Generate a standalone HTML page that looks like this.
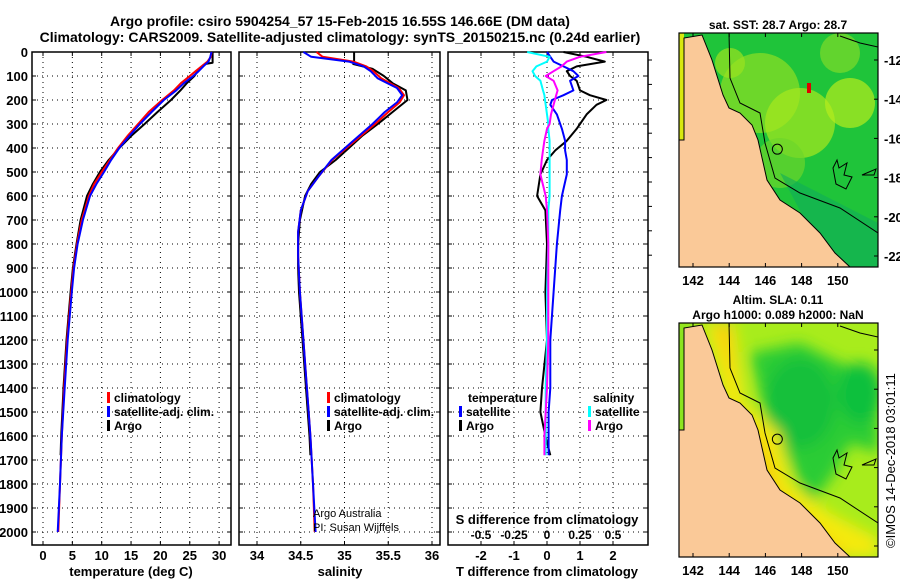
<!DOCTYPE html>
<html><head><meta charset="utf-8"><style>
html,body{margin:0;padding:0;background:#fff;}
svg{display:block;font-family:"Liberation Sans",sans-serif;font-weight:bold;}
</style></head><body>
<svg id="c" width="900" height="580" viewBox="0 0 900 580">
<text x="340" y="26" font-size="14" text-anchor="middle">Argo profile: csiro 5904254_57 15-Feb-2015 16.55S 146.66E (DM data)</text>
<text x="340" y="42" font-size="14" text-anchor="middle">Climatology: CARS2009. Satellite-adjusted climatology: synTS_20150215.nc (0.24d earlier)</text>
<g id="p1"></g>
<g id="p2"></g>
<g id="p3"></g>
<g id="maps"></g>
<text transform="translate(895,548) rotate(-90)" font-size="13" font-weight="normal">©IMOS 14-Dec-2018 03:01:11</text>
</svg>
<script>
const tDepth=[0,20,40,60,80,100,130,160,200,250,300,350,400,450,500,550,600,700,800,900,1000,1200,1400,1600,1800,2000];
const tClim=[28.7,28.6,28.0,27.0,26.0,25.0,23.5,22.3,20.3,18.0,16.2,14.4,12.8,11.4,10.0,8.7,7.8,6.6,5.8,5.2,4.8,4.1,3.6,3.2,2.9,2.6];
const tSat=[28.7,28.5,28.2,27.3,26.5,25.6,24.0,22.7,20.6,18.5,16.5,14.7,13.0,11.6,10.4,9.1,8.0,6.8,5.9,5.3,4.9,4.2,3.7,3.2,2.9,2.5];
const argoDepth=[0,20,45,50,70,100,130,160,200,250,300,350,400,450,500,550,600,700,800,900,1000,1200,1400,1600,1680];
const tArgo=[28.9,28.9,28.9,27.6,26.6,25.8,24.5,23.4,21.8,19.5,17.3,15.0,13.0,11.2,9.7,8.5,7.5,6.4,5.7,5.1,4.7,4.0,3.5,3.1,3.0];
const sDepth=[0,20,40,60,80,110,150,180,210,250,300,370,450,520,580,660,750,850,1000,1200,1400,1600,1800,2000];
const sClim=[34.68,34.75,35.1,35.25,35.33,35.42,35.62,35.68,35.63,35.5,35.35,35.12,34.86,34.7,34.58,34.5,34.47,34.47,34.49,34.53,34.57,34.61,34.64,34.66];
const sSat=[34.53,34.62,35.05,35.22,35.3,35.38,35.6,35.66,35.6,35.46,35.32,35.1,34.85,34.7,34.58,34.5,34.47,34.47,34.49,34.53,34.57,34.61,34.64,34.67];
const sArgo=[35.11,35.11,35.11,35.1,35.32,35.45,35.55,35.7,35.72,35.55,35.38,35.2,35.05,34.9,34.72,34.62,34.55,34.49,34.47,34.47,34.48,34.52,34.56,34.6,34.61];
const dDepth=[0,20,40,60,80,100,120,160,180,200,220,260,300,320,370,410,450,510,600,660,800,1000,1200,1400,1500,1600,1680];
const dTArgo=[0.5,1.2,1.75,0.9,0.6,0.7,0.9,1.0,1.3,1.8,1.5,1.2,1.0,0.9,0.6,0.25,0.0,-0.2,-0.3,-0.05,0.0,-0.05,0.0,-0.15,-0.2,-0.05,0.1];
const dTSat=[0.0,0.1,0.2,0.5,0.8,0.95,0.7,0.8,0.5,0.15,0.1,0.3,0.4,0.45,0.55,0.55,0.6,0.6,0.45,0.4,0.3,0.2,0.1,0.1,0.05,0.05,0.05];
const dSSat=[-0.15,0.02,0.0,-0.08,-0.11,-0.09,-0.05,-0.03,-0.02,-0.015,-0.01,0.0,0.01,0.01,0.02,0.02,0.02,0.02,0.02,0.01,0.01,0.0,0.0,-0.01,-0.01,-0.01,-0.01];
const dSArgo=[0.45,0.25,0.15,0.11,0.05,-0.01,0.05,0.08,0.07,0.06,0.05,0.03,0.02,0.0,-0.02,-0.03,-0.04,-0.05,-0.01,0.0,0.01,0.01,0.01,0.0,-0.01,-0.02,-0.02];
const depthTicks=[0,100,200,300,400,500,600,700,800,900,1000,1100,1200,1300,1400,1500,1600,1700,1800,1900,2000];
const tTicks=[0,5,10,15,20,25,30];
const sTicks=[34,34.5,35,35.5,36];
const sTickLabels=["34","34.5","35","35.5","36"];
const dTTicks=[-2,-1,0,1,2];
const dSTicks=[-0.5,-0.25,0,0.25,0.5];
const dSTickLabels=["-0.5","-0.25","0","0.25","0.5"];

const NS="http://www.w3.org/2000/svg";
function el(p,tag,a,txt){const e=document.createElementNS(NS,tag);for(const k in a)e.setAttribute(k,a[k]);if(txt!==undefined)e.textContent=txt;p.appendChild(e);return e;}
const TOP=52,BOT=545;
const yD=d=>TOP+d*0.24;
const xT=t=>43+t*5.87;
const xS=s=>257+(s-34)*87.5;
const xDT=v=>547+v*33;
const xDS=v=>547+v*132;

function frame(g,x0,x1,xs,name){
  for(const d of depthTicks){if(d===0)continue;
    const l=el(g,'line',{x1:x0,x2:x1,y1:yD(d),y2:yD(d),stroke:'#000','stroke-width':1,'stroke-dasharray':'1,4'});
    
    el(g,'line',{x1:x0,x2:x0+4,y1:yD(d),y2:yD(d),stroke:'#000'});el(g,'line',{x1:x1-4,x2:x1,y1:yD(d),y2:yD(d),stroke:'#000'});}
  for(const x of xs){
    const l=el(g,'line',{x1:x,x2:x,y1:TOP,y2:BOT,stroke:'#000','stroke-width':1,'stroke-dasharray':'1,4'});
    
    el(g,'line',{x1:x,x2:x,y1:BOT-4,y2:BOT,stroke:'#000'});el(g,'line',{x1:x,x2:x,y1:TOP,y2:TOP+4,stroke:'#000'});}
  const r=el(g,'rect',{x:x0,y:TOP,width:x1-x0,height:BOT-TOP,fill:'none',stroke:'#000','stroke-width':1.5});
  
}
function line(g,xs,ys,fx,color,w,name){
  const pts=xs.map((v,i)=>fx(v).toFixed(1)+','+yD(ys[i]).toFixed(1)).join(' ');
  const p=el(g,'polyline',{points:pts,fill:'none',stroke:color,'stroke-width':w,'stroke-linejoin':'round'});
  
}
function legend(g,x,y,items){items.forEach((it,i)=>{
  el(g,'rect',{x:x,y:y+i*14-10,width:3,height:11,fill:it[1]});
  const t=el(g,'text',{x:x+7,y:y+i*14,'font-size':12},it[0]);
  });}

// Panel 1
const p1=document.getElementById('p1');
frame(p1,32,231,tTicks.map(xT),'temperature');
depthTicks.forEach(d=>{const t=el(p1,'text',{x:28,y:yD(d)+5,'font-size':13,'text-anchor':'end'},String(d));
  });
tTicks.forEach(v=>{const t=el(p1,'text',{x:xT(v),y:560,'font-size':13,'text-anchor':'middle'},String(v));
  });
{const t=el(p1,'text',{x:131,y:576,'font-size':13,'text-anchor':'middle'},'temperature (deg C)');}
line(p1,tArgo,argoDepth,xT,'#000',2,'argo-temperature-line');
line(p1,tClim,tDepth,xT,'#f00',2,'climatology-temperature-line');
line(p1,tSat,tDepth,xT,'#00f',2,'satellite-temperature-line');
legend(p1,107,402,[['climatology','#f00'],['satellite-adj. clim.','#00f'],['Argo','#000']]);

// Panel 2
const p2=document.getElementById('p2');
frame(p2,239,440,sTicks.map(xS),'salinity');
sTicks.forEach((v,i)=>{const t=el(p2,'text',{x:xS(v),y:560,'font-size':13,'text-anchor':'middle'},sTickLabels[i]);
  });
{const t=el(p2,'text',{x:340,y:576,'font-size':13,'text-anchor':'middle'},'salinity');}
line(p2,sArgo,argoDepth,xS,'#000',2,'argo-salinity-line');
line(p2,sClim,sDepth,xS,'#f00',2,'climatology-salinity-line');
line(p2,sSat,sDepth,xS,'#00f',2,'satellite-salinity-line');
legend(p2,327,402,[['climatology','#f00'],['satellite-adj. clim.','#00f'],['Argo','#000']]);
{const t=el(p2,'text',{x:313,y:517,'font-size':11,'font-weight':'normal'},'Argo Australia');
 const t2=el(p2,'text',{x:313,y:531,'font-size':11,'font-weight':'normal'},'PI: Susan Wijffels');}

// Panel 3
const p3=document.getElementById('p3');
frame(p3,448,648,dTTicks.map(xDT),'difference');
dTTicks.forEach(v=>{const t=el(p3,'text',{x:xDT(v),y:560,'font-size':13,'text-anchor':'middle'},String(v));
  });
dSTicks.forEach((v,i)=>{const t=el(p3,'text',{x:xDS(v),y:539,'font-size':12,'text-anchor':'middle'},dSTickLabels[i]);
  });
{const t=el(p3,'text',{x:547,y:524,'font-size':13,'text-anchor':'middle'},'S difference from climatology');
 const t2=el(p3,'text',{x:547,y:576,'font-size':13,'text-anchor':'middle'},'T difference from climatology');}
line(p3,dTArgo,dDepth,xDT,'#000',2,'argo-t-diff-line');
line(p3,dTSat,dDepth,xDT,'#00f',2,'satellite-t-diff-line');
line(p3,dSSat,dDepth,xDS,'#0ff',2,'satellite-s-diff-line');
line(p3,dSArgo,dDepth,xDS,'#f0f',2,'argo-s-diff-line');
{const t=el(p3,'text',{x:468,y:402,'font-size':12},'temperature');
 const t2=el(p3,'text',{x:593,y:402,'font-size':12},'salinity');}
legend(p3,459,416,[['satellite','#00f'],['Argo','#000']]);
legend(p3,588,416,[['satellite','#0ff'],['Argo','#f0f']]);
for(let i=0;i<9;i++){el(p3,'line',{x1:648,x2:652,y1:60+i*24.4,y2:60+i*24.4,stroke:'#000'});}

// Maps
const mg=document.getElementById('maps');
const lonTicks=[142,144,146,148,150];
const latTicks=[-12,-14,-16,-18,-20,-22];
const mx=lon=>693+(lon-142)*18.1;
function drawMap(oy,title,kind,showLat){
  const my=lat=>oy+27+(-12-lat)*19.6;
  const g=el(mg,'g',{});
  
  const defs=el(g,'defs',{});
  const cp=el(defs,'clipPath',{id:'cp'+kind});el(cp,'rect',{x:679,y:oy,width:199,height:234});
  if(kind==='sla'){const f=el(defs,'filter',{id:'blur'+kind,x:'-20%',y:'-20%',width:'140%',height:'140%'});el(f,'feGaussianBlur',{stdDeviation:7});}
  const inner=el(g,'g',{'clip-path':'url(#cp'+kind+')'});
  if(kind==='sst'){
    el(inner,'rect',{x:679,y:oy,width:199,height:234,fill:'#1fc43a'});
    [[760,oy+60,40,'#8fe024'],[800,oy+90,35,'#a8e81e'],[850,oy+70,25,'#b6ec1c'],[840,oy+20,20,'#7fdc2a'],[730,oy+30,15,'#9be21f'],[780,oy+130,25,'#6cd52b']].forEach(b=>el(inner,'circle',{cx:b[0],cy:b[1],r:b[2],fill:b[3],opacity:0.7}));
    el(inner,'rect',{x:807,y:oy+50,width:4,height:10,fill:'#e00000'});
    el(inner,'polygon',{points:`780,${oy+140} 878,${oy+190} 878,${oy+234} 830,${oy+234}`,fill:'#0fae5a',opacity:0.6});
    el(inner,'rect',{x:679,y:oy,width:5,height:110,fill:'#d8e80f'});
  } else {
    el(inner,'rect',{x:679,y:oy,width:199,height:234,fill:'#a8ec1c'});
    const bl=el(inner,'g',{filter:'url(#blur'+kind+')'});
    el(bl,'polygon',{points:`750,${oy+30} 800,${oy+20} 840,${oy+40} 878,${oy+50} 878,${oy+130} 850,${oy+120} 835,${oy+150} 820,${oy+170} 810,${oy+185} 790,${oy+140} 770,${oy+110} 760,${oy+70}`,fill:'#2ccc34'});
    el(bl,'ellipse',{cx:800,cy:oy+80,rx:35,ry:45,fill:'#12c03a'});
    el(bl,'ellipse',{cx:860,cy:oy+70,rx:22,ry:30,fill:'#10c03c'});
    el(bl,'polygon',{points:`705,${oy} 735,${oy} 745,${oy+80} 780,${oy+110} 790,${oy+160} 830,${oy+190} 878,${oy+215} 878,${oy+234} 840,${oy+234} 800,${oy+205} 770,${oy+170} 755,${oy+130} 730,${oy+100}`,fill:'#f4ea10'});
    el(bl,'polygon',{points:`715,${oy} 730,${oy} 735,${oy+80} 765,${oy+120} 780,${oy+170} 810,${oy+200} 850,${oy+234} 830,${oy+234} 790,${oy+200} 760,${oy+160}`,fill:'#f6cc10'});
    el(bl,'rect',{x:679,y:oy,width:8,height:110,fill:'#60d828'});
  }
  const land=`679,${oy+107} 684,${oy+107} 684,${oy+5} 702,${oy+2} 712,${oy+27} 723,${oy+62} 729,${oy+75} 740,${oy+80} 752,${oy+92} 758,${oy+107} 767,${oy+147} 780,${oy+167} 800,${oy+180} 820,${oy+200} 835,${oy+220} 850,${oy+234} 679,${oy+234}`;
  const lp=el(inner,'polygon',{points:land,fill:'#fac998',stroke:'#000','stroke-width':1});
  
  el(inner,'polyline',{points:`729,${oy} 730,${oy+45} 740,${oy+70} 760,${oy+80} 765,${oy+110} 775,${oy+145} 800,${oy+160} 840,${oy+175} 878,${oy+200}`,fill:'none',stroke:'#000','stroke-width':1});
  el(inner,'polyline',{points:`840,${oy+3} 860,${oy+10} 878,${oy+14}`,fill:'none',stroke:'#000','stroke-width':1});
  el(inner,'path',{d:`M833,${oy+135} l4,-8 l2,8 l8,-5 l-3,12 l8,2 l-6,12 l-10,-5 z M862,${oy+142} l14,-6 l-2,6 z`,fill:'none',stroke:'#000','stroke-width':1});
  const fl=el(g,'circle',{cx:mx(146.66),cy:my(-16.55),r:5,fill:'none',stroke:'#000','stroke-width':1});
  
  el(g,'rect',{x:679,y:oy,width:199,height:234,fill:'none',stroke:'#000','stroke-width':1.2});
  lonTicks.forEach(v=>{el(g,'line',{x1:mx(v),x2:mx(v),y1:oy+234,y2:oy+230,stroke:'#000'});el(g,'line',{x1:mx(v),x2:mx(v),y1:oy,y2:oy+4,stroke:'#000'});
    const t=el(g,'text',{x:mx(v),y:oy+252,'font-size':13,'text-anchor':'middle'},String(v));});
  latTicks.forEach(v=>{el(g,'line',{x1:874,x2:878,y1:my(v),y2:my(v),stroke:'#000'});
    if(showLat){const t=el(g,'text',{x:884,y:my(v)+5,'font-size':13},String(v));}});
  title.forEach((s,i)=>{const t=el(g,'text',{x:778,y:oy-(title.length-i)*15+11,'font-size':12,'text-anchor':'middle'},s);});
}
drawMap(33,['sat. SST: 28.7 Argo: 28.7'],'sst',true);
drawMap(323,['Altim. SLA: 0.11','Argo h1000: 0.089 h2000: NaN'],'sla',false);
</script>
</body></html>
